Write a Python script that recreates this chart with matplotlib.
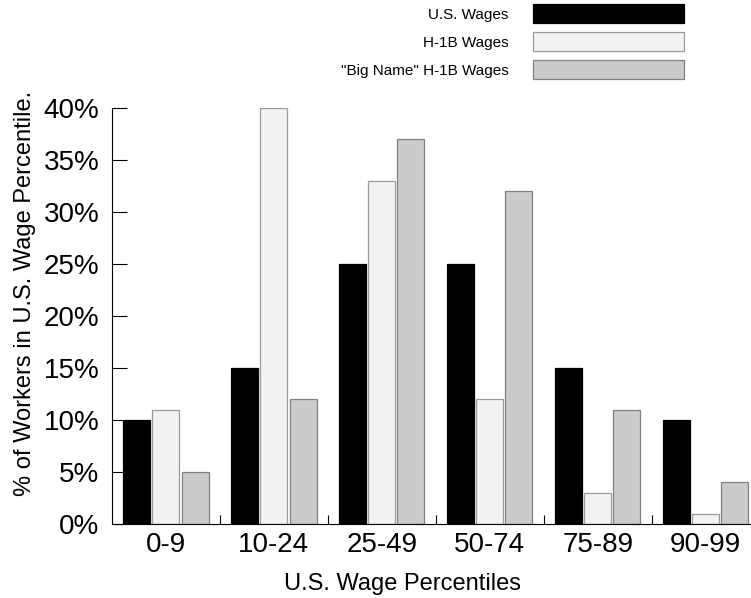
import matplotlib
matplotlib.use("Agg")
import matplotlib.pyplot as plt
from matplotlib.patches import Patch
import numpy as np

plt.rcParams['font.family'] = ['Liberation Sans', 'DejaVu Sans']

# data
categories = ["0-9", "10-24", "25-49", "50-74", "75-89", "90-99"]
us_wages = [10, 15, 25, 25, 15, 10]
h1b_wages = [11, 40, 33, 12, 3, 1]
big_name_wages = [5, 12, 37, 32, 11, 4]
series_names = ["U.S. Wages", "H-1B Wages", '"Big Name" H-1B Wages']
y_ticks = [0, 5, 10, 15, 20, 25, 30, 35, 40]

face = ["#000000", "#f3f3f3", "#cbcbcb"]
edge = ["#000000", "#9a9a9a", "#808080"]

fig = plt.figure(figsize=(7.51, 5.98), dpi=100)
ax = fig.add_axes([0.1491, 0.1237, 0.8509, 0.6957])

x = np.arange(len(categories))
width = 0.25
step = 0.27
for i, vals in enumerate([us_wages, h1b_wages, big_name_wages]):
    ax.bar(x + (i - 1) * step, vals, width, color=face[i], edgecolor=edge[i],
           linewidth=0.9, label=series_names[i])

ax.set_xlim(-0.5, 5.42)
ax.set_ylim(0, 40)
ax.set_yticks(y_ticks)
ax.set_yticklabels([f"{v}%" for v in y_ticks])
ax.set_xticks(x)
ax.set_xticklabels(categories)
ax.set_xticks(x[:-1] + 0.5, minor=True)

ax.tick_params(axis="y", direction="in", length=11, width=0.8, pad=9, labelsize=20)
ax.tick_params(axis="x", which="major", length=0, pad=6, labelsize=20)
ax.tick_params(axis="x", which="minor", direction="in", length=6.5, width=0.8)

for s in ["top", "right"]:
    ax.spines[s].set_visible(False)
ax.spines["left"].set_linewidth(0.8)
ax.spines["bottom"].set_linewidth(0.8)

# y label: right edge of the rotated text sits at about x=36 px
ax.set_ylabel("% of Workers in U.S. Wage Percentile.", fontsize=17)
ax.yaxis.set_label_coords(-0.119, 0.555)
ax.set_xlabel("U.S. Wage Percentiles", fontsize=17)
ax.xaxis.set_label_coords(0.455, -0.118)

handles = [Patch(facecolor=face[i], edgecolor=edge[i], linewidth=0.9) for i in range(3)]
fig.legend(handles, series_names, loc="upper right", bbox_to_anchor=(684 / 751, 1 - 4 / 598),
           frameon=False, markerfirst=False, fontsize=11, handlelength=9.9, handleheight=1.54,
           labelspacing=0.59, handletextpad=1.57, borderpad=0, borderaxespad=0)

fig.savefig("out.png", dpi=100)
